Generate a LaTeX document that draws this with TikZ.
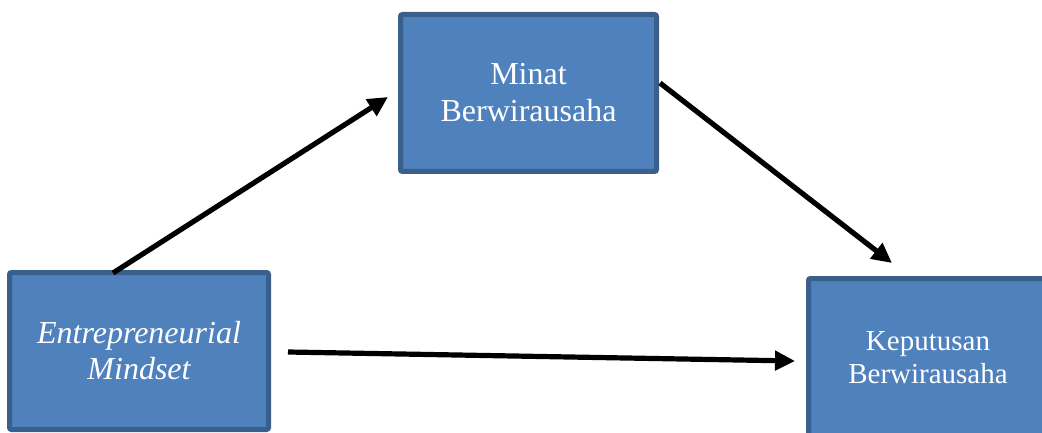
\documentclass[tikz,border=0pt]{standalone}
\usepackage{fontspec}
\setmainfont{Liberation Serif}
\usetikzlibrary{arrows.meta,calc}
\definecolor{boxfill}{HTML}{4F81BD}
\definecolor{boxline}{HTML}{3A5F8C}
\begin{document}
\begin{tikzpicture}[x=1pt,y=-1pt,
  box/.style={draw=boxline, fill=boxfill, line width=5pt, rounded corners=2pt, text=white, align=center, inner sep=0pt},
  link/.style={draw=black, line width=5.2pt, -{Triangle[length=20pt,width=19pt]}}]
\useasboundingbox (0,0) rectangle (1042,433);
\clip (0,0) rectangle (1042,433);
\node[box, minimum width=256pt, minimum height=157pt, font=\fontsize{32}{37}\selectfont] (mb) at (528.5,93) {Minat\\Berwirausaha};
\node[box, minimum width=259pt, minimum height=157pt, font=\fontsize{32}{36}\selectfont\itshape] (em) at (139,351) {Entrepreneurial\\Mindset};
\node[box, minimum width=239pt, minimum height=159pt, font=\fontsize{29}{33}\selectfont] (kb) at (928,358) {Keputusan\\Berwirausaha};
\draw[link] ([xshift=106pt,yshift=-3pt]em.north west) -- ([xshift=-10pt,yshift=-4pt]mb.west);
\draw[link] ([xshift=1pt,yshift=10pt]mb.east) -- ([xshift=86pt,yshift=13pt]kb.north west);
\draw[link] ([xshift=17pt,yshift=-1pt]em.east) -- ([xshift=-11pt,yshift=-3pt]kb.west);
\end{tikzpicture}
\end{document}
